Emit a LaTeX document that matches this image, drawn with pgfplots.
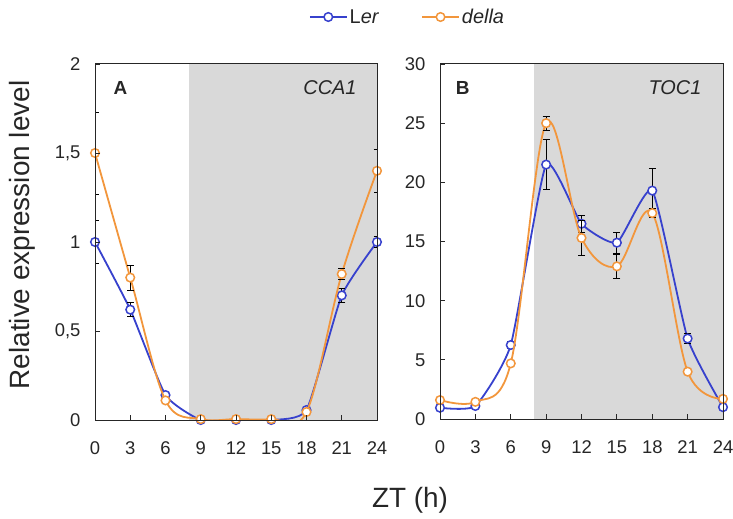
\documentclass[border=0pt]{standalone}
\usepackage{fontspec}
\setmainfont{Liberation Sans}
\usepackage{pgfplots}
\usepackage{pgfplotstable}
\pgfplotsset{compat=1.18}

\definecolor{lerblue}{RGB}{55,65,205}
\definecolor{dellaorange}{RGB}{242,150,60}
\definecolor{nightgray}{RGB}{217,217,217}

% CCA1 expression (mean and error) for Ler and della
\pgfplotstableread{
zt  y     e
0   1.00  0.12
3   0.62  0.04
6   0.14  0.01
9   0.00  0.00
12  0.00  0.00
15  0.00  0.00
18  0.056 0.01
21  0.70  0.04
24  1.00  0.03
}\lerCCA
\pgfplotstableread{
zt  y     e
0   1.50  0.23
3   0.80  0.07
6   0.11  0.01
9   0.005 0.00
12  0.005 0.00
15  0.005 0.00
18  0.045 0.01
21  0.82  0.03
24  1.40  0.12
}\dellaCCA
% TOC1 expression (mean and error) for Ler and della
\pgfplotstableread{
zt  y     e
0   0.95  0.10
3   1.10  0.10
6   6.25  0.30
9   21.5  2.10
12  16.5  0.70
15  14.9  0.90
18  19.3  1.90
21  6.8   0.40
24  1.0   0.10
}\lerTOC
\pgfplotstableread{
zt  y     e
0   1.60  0.10
3   1.45  0.10
6   4.70  0.20
9   25.0  0.60
12  15.3  1.50
15  12.9  1.00
18  17.4  0.40
21  4.0   0.20
24  1.7   0.10
}\dellaTOC

\tikzset{
  panellabel/.style={font=\fontsize{19}{22}\selectfont\bfseries, text=black!85},
  genelabel/.style={font=\fontsize{20}{24}\selectfont\itshape, text=black!85},
}

\pgfplotsset{
  clockpanel/.style={
    scale only axis, width=282bp, height=356bp,
    xmin=0, xmax=24, xtick={0,3,...,24},
    axis on top, clip mode=individual,
    tick align=inside, xtick pos=bottom, ytick pos=left,
    major tick length=5bp,
    axis line style={black!85, line width=1bp},
    tick style={black!85, line width=0.9bp},
    ticklabel style={font=\fontsize{18.5}{22}\selectfont, text=black!85},
    /pgf/number format/assume math mode=true,
    yticklabel style={xshift=-11bp},
    xticklabel style={yshift=-18bp},
  },
  errs/.style={
    error bars/.cd, y dir=both, y explicit,
    error bar style={black, line width=0.8bp},
    error mark options={rotate=90, black, mark size=3.5bp, line width=0.8bp},
  },
  lerline/.style={lerblue, line width=1.8bp, smooth, tension=0.3,
    mark=*, mark size=4.3bp, mark options={fill=white, draw=lerblue, line width=1.5bp}},
  dellaline/.style={dellaorange, line width=1.8bp, smooth, tension=0.55,
    mark=*, mark size=4.3bp, mark options={fill=white, draw=dellaorange, line width=1.5bp}},
}

\begin{document}
\begin{tikzpicture}
\path[use as bounding box] (0,0) rectangle (733bp,519bp);

% Panel A: CCA1
\begin{axis}[clockpanel, at={(95bp,99bp)},
  ymin=0, ymax=2, ytick={0,0.5,1,1.5,2},
  yticklabels={0,{0,5},1,{1,5},2},
  legend columns=2,
  legend style={at={(1.108,1.132)}, anchor=center, draw=none, fill=none,
    font=\fontsize{20}{24}\selectfont, text=black!85,
    /tikz/every even column/.append style={column sep=40bp}},
  legend image code/.code={\draw[mark repeat=2, mark phase=2]
    plot coordinates {(0bp,0bp) (18.5bp,0bp) (37bp,0bp)};},
]
\addplot[draw=none, fill=nightgray, forget plot] coordinates {(8,0) (8,2) (24,2) (24,0)} -- cycle;
\addplot[lerline, errs] table[x=zt, y=y, y error=e] {\lerCCA};
\addlegendentry{L\textit{er}}
\addplot[dellaline, errs] table[x=zt, y=y, y error=e] {\dellaCCA};
\addlegendentry{\textit{della}}
\node[panellabel, anchor=center] at (rel axis cs:0.09,0.933) {A};
\node[genelabel, anchor=east] at (rel axis cs:0.94,0.933) {CCA1};
\end{axis}

% Panel B: TOC1
\begin{axis}[clockpanel, at={(440bp,100bp)}, width=283bp, height=355bp,
  ymin=0, ymax=30, ytick={0,5,...,30},
]
\addplot[draw=none, fill=nightgray, forget plot] coordinates {(8,0) (8,30) (24,30) (24,0)} -- cycle;
\addplot[lerline, errs] table[x=zt, y=y, y error=e] {\lerTOC};
\addplot[dellaline, errs] table[x=zt, y=y, y error=e] {\dellaTOC};
\node[panellabel, anchor=center] at (rel axis cs:0.08,0.933) {B};
\node[genelabel, anchor=east] at (rel axis cs:0.936,0.933) {TOC1};
\end{axis}

% Shared axis titles
\node[rotate=90, font=\fontsize{28}{32}\selectfont, text=black!85] at (22bp,284bp) {Relative expression level};
\node[font=\fontsize{28}{32}\selectfont, text=black!85] at (410bp,19bp) {ZT (h)};
\end{tikzpicture}
\end{document}
